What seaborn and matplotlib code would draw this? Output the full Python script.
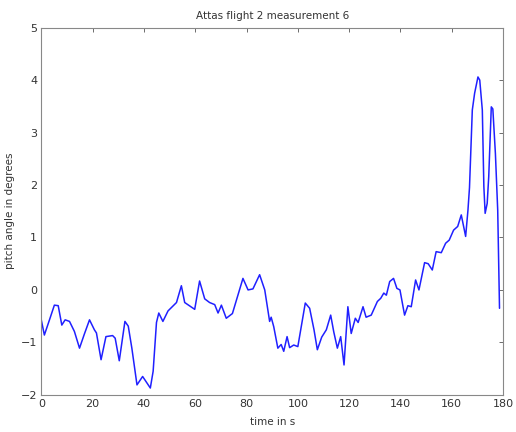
import matplotlib
matplotlib.use("Agg")
import matplotlib.pyplot as plt
import seaborn as sns
import pandas as pd

# time (s) and pitch angle (deg)
time_s = [0.0, 1.2, 3.2, 5.1, 6.6, 8.0, 9.3, 11.0, 12.9, 14.9, 16.8, 18.8, 20.7, 21.5,
          23.3, 25.2, 27.8, 28.8, 30.4, 32.6, 33.9, 35.3, 37.3, 39.5, 42.5, 43.6, 44.9, 45.8,
          47.4, 49.4, 52.7, 54.6, 55.9, 57.7, 59.8, 61.7, 63.7, 65.6, 67.6, 68.9, 70.2, 72.1,
          74.5, 78.6, 80.6, 82.5, 85.1, 87.1, 89.0, 89.6, 90.6, 92.2, 93.5, 94.5, 95.8, 96.8,
          98.4, 100.0, 102.9, 104.6, 106.3, 107.6, 109.3, 111.1, 112.8, 114.0, 115.4, 116.7,
          118.0, 119.5, 120.8, 122.4, 123.5, 125.4, 126.6, 128.6, 131.0, 132.3, 133.5, 134.5,
          135.8, 137.3, 138.6, 139.8, 141.6, 142.9, 144.2, 145.9, 147.2, 149.4, 150.8, 152.4,
          153.9, 155.9, 157.6, 159.0, 160.7, 162.3, 163.7, 165.4, 166.3, 166.9, 168.0, 168.9,
          170.2, 170.9, 171.9, 172.5, 173.0, 173.8, 174.4, 175.4, 176.0, 177.0, 177.9, 178.6]
pitch_deg = [-0.57, -0.86, -0.57, -0.29, -0.30, -0.67, -0.57, -0.60, -0.79, -1.11, -0.84,
             -0.57, -0.76, -0.82, -1.33, -0.89, -0.87, -0.92, -1.35, -0.60, -0.69, -1.11, -1.81,
             -1.65, -1.87, -1.55, -0.62, -0.44, -0.60, -0.40, -0.24, 0.08, -0.24, -0.30, -0.37,
             0.17, -0.17, -0.24, -0.28, -0.44, -0.29, -0.54, -0.45, 0.22, 0.00, 0.02, 0.29, 0.00,
             -0.60, -0.52, -0.70, -1.11, -1.04, -1.17, -0.89, -1.10, -1.05, -1.08, -0.25, -0.35,
             -0.76, -1.14, -0.90, -0.76, -0.48, -0.80, -1.11, -0.89, -1.43, -0.32, -0.83, -0.54,
             -0.62, -0.32, -0.52, -0.48, -0.22, -0.16, -0.06, -0.10, 0.16, 0.22, 0.03, 0.00,
             -0.48, -0.30, -0.32, 0.19, 0.00, 0.52, 0.50, 0.38, 0.73, 0.71, 0.89, 0.95, 1.14,
             1.21, 1.43, 1.02, 1.52, 1.95, 3.43, 3.75, 4.06, 4.00, 3.43, 1.97, 1.46, 1.65, 2.16,
             3.49, 3.45, 2.60, 1.52, -0.35]

df = pd.DataFrame({"t": time_s, "pitch": pitch_deg})

sns.set_style("white")
plt.rcParams["font.family"] = ["DejaVu Sans"]

fig = plt.figure(figsize=(5.16, 4.32), dpi=100)
ax = fig.add_axes([0.080, 0.086, 0.895, 0.850])

sns.lineplot(data=df, x="t", y="pitch", ax=ax, color="#2020ff", linewidth=1.1,
             sort=False, estimator=None)

ax.set_xlim(0, 180)
ax.set_ylim(-2, 5)
ax.set_xticks(range(0, 181, 20))
ax.set_yticks(range(-2, 6, 1))
ax.tick_params(direction="in", top=True, right=True, length=3, width=0.6,
               labelsize=8, colors="#555555", labelcolor="#333333", pad=3)
for s in ax.spines.values():
    s.set_color("#888888")
    s.set_linewidth(0.8)

ax.set_title("Attas flight 2 measurement 6", fontsize=7.5, color="#333333", pad=6)
ax.set_xlabel("time in s", fontsize=7.5, color="#333333", labelpad=6)
ax.set_ylabel("pitch angle in degrees", fontsize=7.5, color="#333333", labelpad=4)

fig.savefig("out.png", dpi=100)
